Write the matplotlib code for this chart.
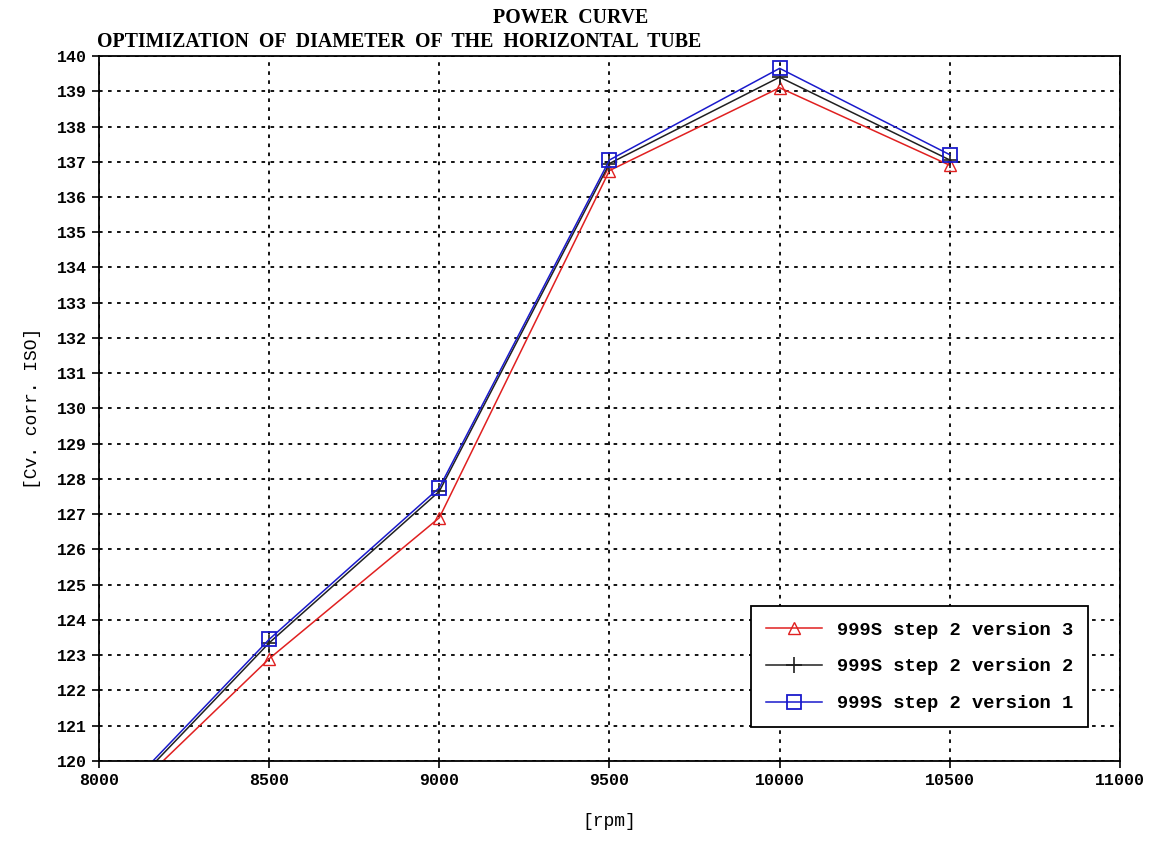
import matplotlib
matplotlib.use("Agg")
import matplotlib.pyplot as plt

# data
rpm = [8000, 8500, 9000, 9500, 10000, 10500]
v3 = [118.25, 122.9, 126.9, 136.75, 139.1, 136.9]
v2 = [118.3, 123.35, 127.65, 136.95, 139.4, 137.05]
v1 = [118.4, 123.45, 127.75, 137.05, 139.65, 137.2]
labels = ["999S step 2 version 3", "999S step 2 version 2", "999S step 2 version 1"]

plt.rcParams['font.family'] = ['Liberation Mono', 'DejaVu Sans Mono']
plt.rcParams['font.weight'] = 'bold'

fig = plt.figure(figsize=(11.59, 8.46), dpi=100)
ax = fig.add_axes([0.0854, 0.1005, 0.9663 - 0.0854, 0.9338 - 0.1005])

ax.plot(rpm, v3, color='#e02020', marker='^', mfc='none', mec='#e02020',
        ms=8, lw=1.1, label=labels[0])
ax.plot(rpm, v2, color='#202020', marker='+', ms=12, mew=1.2, lw=1.1,
        label=labels[1])
ax.plot(rpm, v1, color='#1a1acc', marker='s', mfc='none', mec='#1a1acc',
        ms=10, mew=1.3, lw=1.1, label=labels[2])

ax.set_xlim(8000, 11000)
ax.set_ylim(120, 140)
ax.set_xticks(range(8000, 11001, 500))
ax.set_yticks(range(120, 141))
ax.tick_params(labelsize=12, direction='out', length=5, width=1.2)
ax.grid(True, color='black', linestyle=(0, (2, 3)), linewidth=1.3)
for s in ax.spines.values():
    s.set_linewidth(1.3)

ax.set_xlabel('[rpm]', fontsize=13, labelpad=18)
ax.set_ylabel('[Cv. corr. ISO]', fontsize=13, labelpad=12)

fig.text(493 / 1159, 1 - 18 / 846, 'POWER  CURVE', fontsize=14.3,
         family='Liberation Serif', weight='bold', va='center', ha='left')
fig.text(97 / 1159, 1 - 42 / 846, 'OPTIMIZATION  OF  DIAMETER  OF  THE  HORIZONTAL  TUBE',
         fontsize=14.3, family='Liberation Serif', weight='bold', va='center', ha='left')

leg = ax.legend(loc='lower right', bbox_to_anchor=(0.969, 0.048), fontsize=13.5,
                fancybox=False, edgecolor='black', framealpha=1, borderaxespad=0,
                handlelength=3, borderpad=0.8, labelspacing=1.05)
leg.get_frame().set_linewidth(1.3)

fig.savefig('out.png', dpi=100)
